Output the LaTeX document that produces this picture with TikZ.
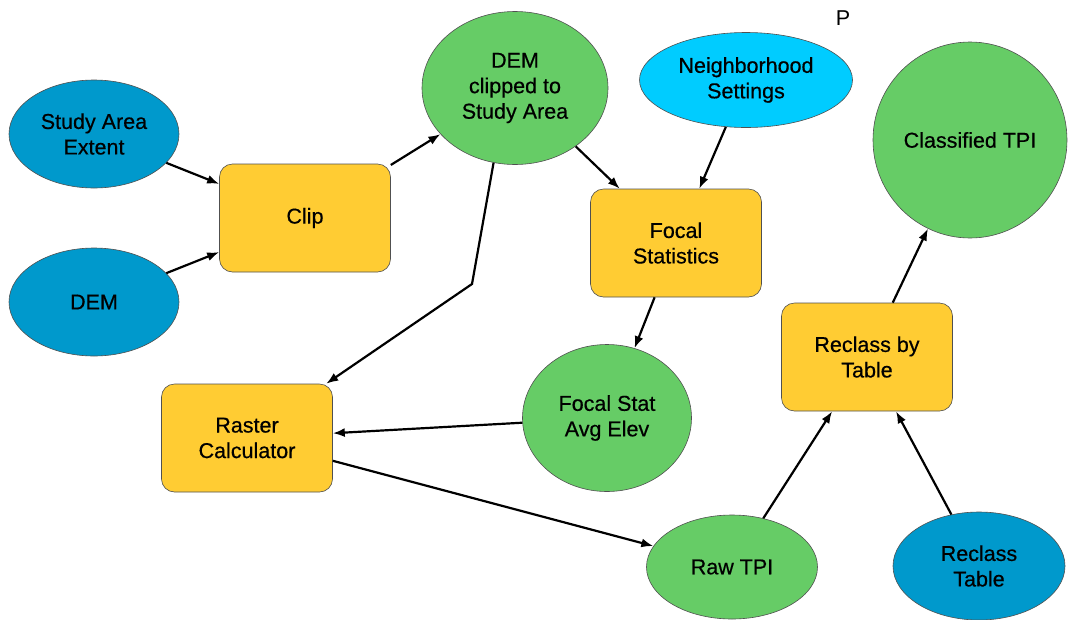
\documentclass[tikz,border=0pt]{standalone}
\usepackage{fontspec}
\setmainfont{Liberation Sans}
\newfontfamily\lblfont[FakeBold=0.5]{Liberation Sans}
\usetikzlibrary{shapes.geometric,arrows.meta}
\definecolor{inblue}{RGB}{0,153,204}
\definecolor{cyanv}{RGB}{0,204,255}
\definecolor{grn}{RGB}{102,204,102}
\definecolor{tool}{RGB}{255,204,51}
\definecolor{edge}{RGB}{80,80,80}
\tikzset{
  lbl/.style={font=\lblfont\fontsize{21.5}{25.5}\selectfont, align=center, text=black},
  oval/.style={lbl, ellipse, draw=edge, line width=0.6pt, inner sep=0pt},
  toolbox/.style={lbl, rectangle, rounded corners=13pt, draw=edge, line width=0.6pt, fill=tool,
     minimum width=171pt, minimum height=108pt, inner sep=0pt},
  conn/.style={line width=2.2pt, -{Latex[length=12pt,width=9pt]}},
}
\begin{document}
\begin{tikzpicture}[x=1pt,y=-1pt]
\useasboundingbox (0,0) rectangle (1077,619);
% inputs
\node[oval, fill=inblue, minimum width=170pt, minimum height=108pt] (sae) at (94,134) {Study Area\\Extent};
\node[oval, fill=inblue, minimum width=170pt, minimum height=108pt] (dem) at (94,302) {DEM};
\node[oval, fill=cyanv, minimum width=213pt, minimum height=95pt] (nbh) at (746,80) {Neighborhood\\Settings};
\node[oval, fill=inblue, minimum width=172pt, minimum height=108pt] (rtab) at (979,566) {Reclass\\Table};
% tools
\node[toolbox] (clip) at (305,218) {Clip};
\node[toolbox] (focal) at (676,243) {Focal\\Statistics};
\node[toolbox] (rcalc) at (247,438) {Raster\\Calculator};
\node[toolbox] (recl) at (867,357) {Reclass by\\Table};
% outputs
\node[oval, fill=grn, minimum width=186pt, minimum height=153pt] (demc) at (515,88) {DEM\\clipped to\\Study Area};
\node[oval, fill=grn, minimum width=169pt, minimum height=147pt] (fsae) at (607,418) {Focal Stat\\Avg Elev};
\node[oval, fill=grn, minimum width=171pt, minimum height=104pt] (raw) at (732,567) {Raw TPI};
\node[oval, fill=grn, minimum width=194pt, minimum height=196pt] (ctpi) at (970,140) {Classified TPI};
% stray label
\node[font=\fontsize{21.5}{25.5}\selectfont] (p) at (843,18) {P};
% connectors
\coordinate (bend) at (472,284);
\draw[conn] (sae) -- (clip);
\draw[conn] (dem) -- (clip);
\draw[conn] (clip) -- (demc);
\draw[conn] (demc) -- (focal);
\draw[conn] (nbh) -- (focal);
\draw[conn] (demc.-106) -- (bend) -- (rcalc);
\draw[conn] (focal) -- (fsae);
\draw[conn] (fsae) -- (rcalc);
\draw[conn] (rcalc) -- (raw);
\draw[conn] (raw) -- (recl);
\draw[conn] (rtab) -- (recl);
\draw[conn] (recl) -- (ctpi);
\end{tikzpicture}
\end{document}
